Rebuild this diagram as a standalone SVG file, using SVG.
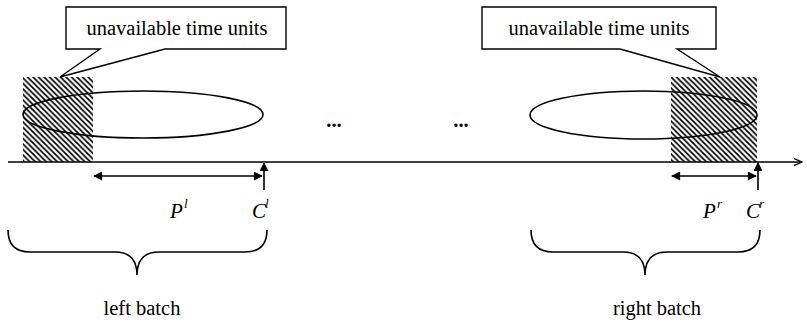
<svg xmlns="http://www.w3.org/2000/svg" width="807" height="325" viewBox="0 0 807 325">
<style>
.ln{fill:none;stroke:#000;stroke-width:1.6}
.t{font-family:"Liberation Serif","Times New Roman",serif;font-size:20.5px;fill:#000}
.it{font-family:"Liberation Serif","Times New Roman",serif;font-size:21px;font-style:italic;fill:#000}
.sup{font-family:"Liberation Serif","Times New Roman",serif;font-size:13px;font-style:italic;fill:#000}
.callout{fill:#fff;stroke:#000;stroke-width:1.4}
.hatch{fill:url(#h)}
</style>
<defs>
<pattern id="h" patternUnits="userSpaceOnUse" width="5.5" height="5.5">
<path d="M-1,-1 L6.5,6.5 M-1,4.5 L1,6.5 M4.5,-1 L6.5,1" stroke="#000" stroke-width="1.7" fill="none"/>
</pattern>
<marker id="fa" viewBox="0 0 10 10" refX="9" refY="5" markerWidth="11" markerHeight="9" markerUnits="userSpaceOnUse" orient="auto-start-reverse">
<path d="M0,0 L10,5 L0,10 z" fill="#000"/>
</marker>
<marker id="oa" viewBox="0 0 10 10" refX="9" refY="5" markerWidth="9" markerHeight="9" markerUnits="userSpaceOnUse" orient="auto">
<path d="M0,1 L9,5 L0,9" fill="none" stroke="#000" stroke-width="1.5"/>
</marker>
</defs>
<g id="left-unavailable">
<rect class="hatch" x="23" y="77" width="70" height="85"/>
</g>
<g id="right-unavailable">
<rect class="hatch" x="671" y="77" width="86" height="85"/>
</g>
<g id="left-batch-ellipse">
<ellipse class="ln" cx="143" cy="114.5" rx="120" ry="23.5"/>
</g>
<g id="right-batch-ellipse">
<ellipse class="ln" cx="643.5" cy="115" rx="113.5" ry="24"/>
</g>
<g id="left-callout">
<path class="callout" d="M66,7 H286 V49 H165 L60,77 L100,49 H66 Z"/>
<text class="t" x="177" y="35" text-anchor="middle">unavailable time units</text>
</g>
<g id="right-callout">
<path class="callout" d="M482,7 H716 V49 H677 L720,77 L620,49 H482 Z"/>
<text class="t" x="599" y="35" text-anchor="middle">unavailable time units</text>
</g>
<g id="dots">
<text class="t" x="334" y="127" text-anchor="middle" font-weight="bold" font-size="24">...</text>
<text class="t" x="461" y="127" text-anchor="middle" font-weight="bold" font-size="24">...</text>
</g>
<g id="connectors">
<line class="ln" x1="8" y1="162" x2="802" y2="162" marker-end="url(#oa)"/>
<line class="ln" x1="94" y1="176" x2="262" y2="176" marker-start="url(#fa)" marker-end="url(#fa)"/>
<line class="ln" x1="264" y1="190" x2="264" y2="163" marker-end="url(#fa)"/>
<line class="ln" x1="672" y1="176" x2="756" y2="176" marker-start="url(#fa)" marker-end="url(#fa)"/>
<line class="ln" x1="758" y1="190" x2="758" y2="163" marker-end="url(#fa)"/>
<path class="ln" d="M8,230 Q8,252 30,252 L115,252 Q137,252 137,275 Q137,252 159,252 L245,252 Q267,252 267,230"/>
<path class="ln" d="M531,230 Q531,252 553,252 L623,252 Q645,252 645,275 Q645,252 667,252 L738,252 Q760,252 760,230"/>
</g>
<g id="labels">
<text class="it" x="170" y="218">P</text><text class="sup" x="184" y="208">l</text>
<text class="it" x="252" y="218">C</text><text class="sup" x="265" y="208">l</text>
<text class="it" x="703" y="218">P</text><text class="sup" x="717" y="208">r</text>
<text class="it" x="746" y="218">C</text><text class="sup" x="759" y="208">r</text>
<text class="t" x="142" y="315" text-anchor="middle">left batch</text>
<text class="t" x="657" y="315" text-anchor="middle">right batch</text>
</g>
</svg>
